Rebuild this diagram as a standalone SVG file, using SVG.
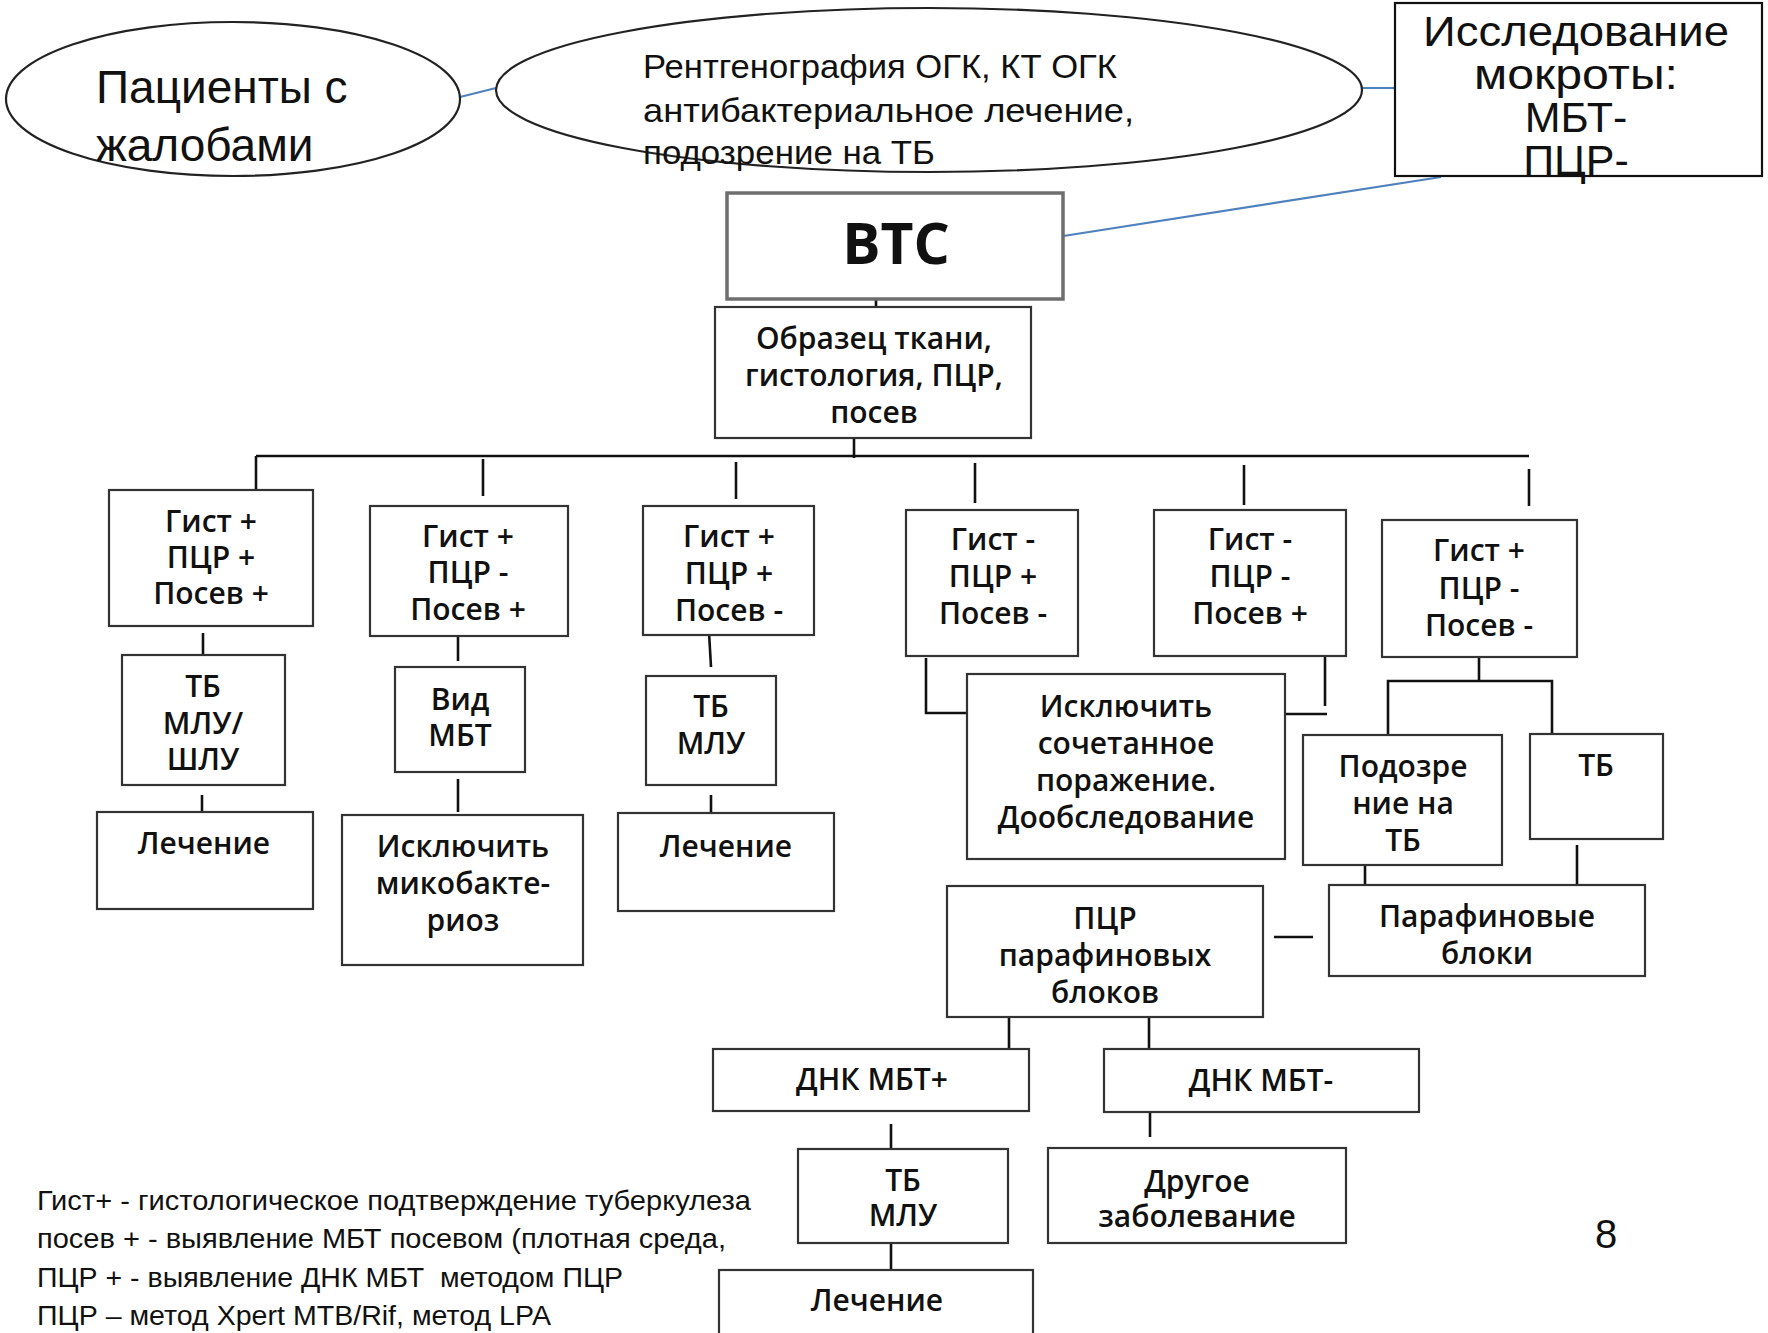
<svg xmlns="http://www.w3.org/2000/svg" width="1768" height="1333" viewBox="0 0 1768 1333">
<style>
.bx{fill:#fff;stroke:#333;stroke-width:2.2}
.el{fill:#fff;stroke:#222;stroke-width:2.2}
.ln{stroke:#111;stroke-width:2.6;fill:none}
.bl{stroke:#4f81bd;stroke-width:2.2;fill:none}
.t{font-family:"Open Sans","Noto Sans","DejaVu Sans",sans-serif;font-weight:600;font-size:30px;fill:#111;text-anchor:middle}
.c{font-family:"Liberation Sans",Arial,sans-serif;fill:#111}
</style>
<rect width="1768" height="1333" fill="#fff"/>

<g id="connectors">
<line class="bl" x1="460" y1="97" x2="496" y2="88"/>
<line class="bl" x1="1362" y1="88" x2="1395" y2="88"/>
<line class="bl" x1="1441" y1="177" x2="1057" y2="237"/>
<line class="ln" x1="876" y1="300" x2="876" y2="313"/>
<line class="ln" x1="854" y1="438" x2="854" y2="458"/>
<line class="ln" x1="256" y1="456" x2="1529" y2="456"/>
<line class="ln" x1="256" y1="456" x2="256" y2="501"/>
<line class="ln" x1="483" y1="459" x2="483" y2="496"/>
<line class="ln" x1="736" y1="462" x2="736" y2="499"/>
<line class="ln" x1="975" y1="463" x2="975" y2="503"/>
<line class="ln" x1="1244" y1="465" x2="1244" y2="505"/>
<line class="ln" x1="1529" y1="469" x2="1529" y2="506"/>
<line class="ln" x1="203" y1="633" x2="203" y2="654"/>
<line class="ln" x1="202" y1="795" x2="202" y2="811"/>
<line class="ln" x1="458" y1="636" x2="458" y2="661"/>
<line class="ln" x1="458" y1="779" x2="458" y2="812"/>
<line class="ln" x1="709" y1="632" x2="711" y2="667"/>
<line class="ln" x1="711" y1="795" x2="711" y2="813"/>
<polyline class="ln" points="926,658 926,713 967,713"/>
<line class="ln" x1="1325" y1="651" x2="1325" y2="706"/>
<line class="ln" x1="1285" y1="714" x2="1327" y2="714"/>
<line class="ln" x1="1479" y1="657" x2="1479" y2="681"/>
<polyline class="ln" points="1388,735 1388,681 1552,681 1552,734"/>
<line class="ln" x1="1365" y1="865" x2="1365" y2="885"/>
<line class="ln" x1="1577" y1="845" x2="1577" y2="885"/>
<line class="ln" x1="1274" y1="937" x2="1313" y2="937"/>
<line class="ln" x1="1009" y1="1017" x2="1009" y2="1049"/>
<line class="ln" x1="1149" y1="1017" x2="1149" y2="1049"/>
<line class="ln" x1="891" y1="1124" x2="891" y2="1149"/>
<line class="ln" x1="891" y1="1243" x2="891" y2="1269"/>
<line class="ln" x1="1150" y1="1112" x2="1150" y2="1137"/>
</g>

<g id="patients">
<ellipse class="el" cx="233" cy="99" rx="227" ry="77"/>
<text class="c" font-size="46" x="96" y="103">Пациенты с</text>
<text class="c" font-size="46" x="96" y="161">жалобами</text>
</g>

<g id="xray">
<ellipse class="el" cx="929" cy="90" rx="433" ry="82"/>
<text class="c" font-size="34" x="643" y="78" textLength="474" lengthAdjust="spacingAndGlyphs">Рентгенография ОГК, КТ ОГК</text>
<text class="c" font-size="34" x="643" y="122" textLength="491" lengthAdjust="spacingAndGlyphs">антибактериальное лечение,</text>
<text class="c" font-size="34" x="643" y="164" textLength="292" lengthAdjust="spacingAndGlyphs">подозрение на ТБ</text>
</g>

<g id="sputum">
<rect class="bx" x="1395" y="3" width="367" height="173" style="stroke:#111"/>
<text class="c" font-size="43" text-anchor="middle" x="1576" y="46" textLength="306" lengthAdjust="spacingAndGlyphs">Исследование</text>
<text class="c" font-size="43" text-anchor="middle" x="1576" y="89" textLength="204" lengthAdjust="spacingAndGlyphs">мокроты:</text>
<text class="c" font-size="43" text-anchor="middle" x="1576" y="132">МБТ-</text>
<text class="c" font-size="43" text-anchor="middle" x="1576" y="175">ПЦР-</text>
</g>

<g id="vts">
<rect x="727" y="193" width="336" height="106" fill="#fff" stroke="#6e6e6e" stroke-width="3.5"/>
<text class="t" x="896" y="264" style="font-size:57px;font-weight:700">ВТС</text>
</g>

<g id="sample">
<rect class="bx" x="715" y="307" width="316" height="131"/>
<text class="t" x="874" y="349">Образец ткани,</text>
<text class="t" x="874" y="386">гистология, ПЦР,</text>
<text class="t" x="874" y="423">посев</text>
</g>

<g id="r1">
<rect class="bx" x="109" y="490" width="204" height="136"/>
<text class="t" x="211" y="532">Гист +</text>
<text class="t" x="211" y="568">ПЦР +</text>
<text class="t" x="211" y="604">Посев +</text>
</g>
<g id="r2">
<rect class="bx" x="370" y="506" width="198" height="130"/>
<text class="t" x="468" y="547">Гист +</text>
<text class="t" x="468" y="583">ПЦР -</text>
<text class="t" x="468" y="620">Посев +</text>
</g>
<g id="r3">
<rect class="bx" x="643" y="506" width="171" height="129"/>
<text class="t" x="729" y="547">Гист +</text>
<text class="t" x="729" y="584">ПЦР +</text>
<text class="t" x="729" y="621">Посев -</text>
</g>
<g id="r4">
<rect class="bx" x="906" y="510" width="172" height="146"/>
<text class="t" x="993" y="550">Гист -</text>
<text class="t" x="993" y="587">ПЦР +</text>
<text class="t" x="993" y="624">Посев -</text>
</g>
<g id="r5">
<rect class="bx" x="1154" y="510" width="192" height="146"/>
<text class="t" x="1250" y="550">Гист -</text>
<text class="t" x="1250" y="587">ПЦР -</text>
<text class="t" x="1250" y="624">Посев +</text>
</g>
<g id="r6">
<rect class="bx" x="1382" y="520" width="195" height="137"/>
<text class="t" x="1479" y="561">Гист +</text>
<text class="t" x="1479" y="599">ПЦР -</text>
<text class="t" x="1479" y="636">Посев -</text>
</g>

<g id="tb-mdr-xdr">
<rect class="bx" x="122" y="655" width="163" height="130"/>
<text class="t" x="203" y="697">ТБ</text>
<text class="t" x="203" y="734">МЛУ/</text>
<text class="t" x="203" y="770">ШЛУ</text>
</g>
<g id="treat1">
<rect class="bx" x="97" y="812" width="216" height="97"/>
<text class="t" x="204" y="854">Лечение</text>
</g>
<g id="species">
<rect class="bx" x="395" y="667" width="130" height="105"/>
<text class="t" x="460" y="710">Вид</text>
<text class="t" x="460" y="746">МБТ</text>
</g>
<g id="exclude-myco">
<rect class="bx" x="342" y="815" width="241" height="150"/>
<text class="t" x="463" y="857">Исключить</text>
<text class="t" x="463" y="894">микобакте-</text>
<text class="t" x="463" y="931">риоз</text>
</g>
<g id="tb-mdr1">
<rect class="bx" x="646" y="676" width="130" height="109"/>
<text class="t" x="711" y="717">ТБ</text>
<text class="t" x="711" y="754">МЛУ</text>
</g>
<g id="treat2">
<rect class="bx" x="618" y="813" width="216" height="98"/>
<text class="t" x="726" y="857">Лечение</text>
</g>
<g id="exclude-comb">
<rect class="bx" x="967" y="674" width="318" height="185"/>
<text class="t" x="1126" y="717">Исключить</text>
<text class="t" x="1126" y="754">сочетанное</text>
<text class="t" x="1126" y="791">поражение.</text>
<text class="t" x="1126" y="828">Дообследование</text>
</g>
<g id="suspect">
<rect class="bx" x="1303" y="735" width="199" height="130"/>
<text class="t" x="1403" y="777">Подозре</text>
<text class="t" x="1403" y="814">ние на</text>
<text class="t" x="1403" y="851">ТБ</text>
</g>
<g id="tb6">
<rect class="bx" x="1530" y="734" width="133" height="105"/>
<text class="t" x="1596" y="776">ТБ</text>
</g>
<g id="paraffin">
<rect class="bx" x="1329" y="885" width="316" height="91"/>
<text class="t" x="1487" y="927">Парафиновые</text>
<text class="t" x="1487" y="964">блоки</text>
</g>
<g id="pcr-paraffin">
<rect class="bx" x="947" y="886" width="316" height="131"/>
<text class="t" x="1105" y="929">ПЦР</text>
<text class="t" x="1105" y="966">парафиновых</text>
<text class="t" x="1105" y="1003">блоков</text>
</g>
<g id="dna-pos">
<rect class="bx" x="713" y="1049" width="316" height="62"/>
<text class="t" x="872" y="1090">ДНК МБТ+</text>
</g>
<g id="dna-neg">
<rect class="bx" x="1104" y="1049" width="315" height="63"/>
<text class="t" x="1261" y="1091">ДНК МБТ-</text>
</g>
<g id="tb-mdr2">
<rect class="bx" x="798" y="1149" width="210" height="94"/>
<text class="t" x="903" y="1191">ТБ</text>
<text class="t" x="903" y="1226">МЛУ</text>
</g>
<g id="other">
<rect class="bx" x="1048" y="1148" width="298" height="95"/>
<text class="t" x="1197" y="1192">Другое</text>
<text class="t" x="1197" y="1227">заболевание</text>
</g>
<g id="treat3">
<rect class="bx" x="719" y="1270" width="314" height="80"/>
<text class="t" x="877" y="1311">Лечение</text>
</g>

<g id="legend">
<text class="c" font-size="27" x="37" y="1210" textLength="714" lengthAdjust="spacingAndGlyphs">Гист+ - гистологическое подтверждение туберкулеза</text>
<text class="c" font-size="27" x="37" y="1248" textLength="689" lengthAdjust="spacingAndGlyphs">посев + - выявление МБТ посевом (плотная среда,</text>
<text class="c" font-size="27" x="37" y="1287" textLength="586" lengthAdjust="spacingAndGlyphs" xml:space="preserve">ПЦР + - выявление ДНК МБТ  методом ПЦР</text>
<text class="c" font-size="27" x="37" y="1325" textLength="514" lengthAdjust="spacingAndGlyphs">ПЦР – метод Xpert MTB/Rif, метод LPA</text>
</g>
<g id="page">
<text class="c" font-size="40" x="1606" y="1248" text-anchor="middle">8</text>
</g>
</svg>
